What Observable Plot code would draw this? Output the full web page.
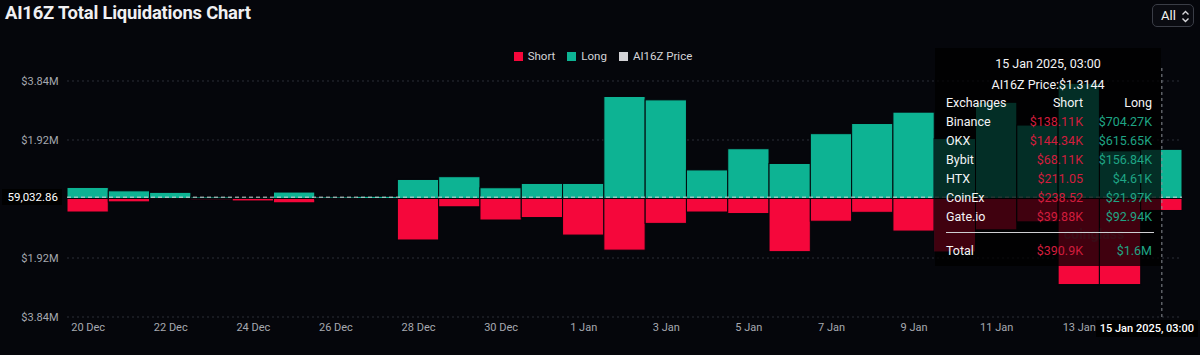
<!DOCTYPE html>
<html><head><meta charset="utf-8">
<script src="https://cdn.jsdelivr.net/npm/d3@7"></script>
<script src="https://cdn.jsdelivr.net/npm/@observablehq/plot@0.6"></script>
<style>
body{margin:0;background:#05060b;font-family:Roboto,"Noto Sans",sans-serif;}
#wrap{position:relative;width:1200px;height:355px;overflow:hidden;background:#05060b;}
#title{position:absolute;left:5px;top:2px;font-size:18.4px;font-weight:700;color:#f0f0f2;letter-spacing:-0.2px;white-space:nowrap}
#sel{position:absolute;left:1152px;top:4px;width:42px;height:23px;border:1px solid #3a3d46;border-radius:5px;background:#0a0b11;color:#f2f2f2;font-size:13px;box-sizing:border-box}
#sel span{position:absolute;left:8px;top:3px}
#sel svg{position:absolute;left:28px;top:5px}
#legend{position:absolute;left:0;top:49px;width:1206px;display:flex;justify-content:center;gap:12px;font-size:11.5px;color:#d4d4d8}
#legend .it{display:flex;align-items:center;gap:5px}
#legend .sw{width:9px;height:9px;display:inline-block}
#chart{position:absolute;left:0;top:68px}
.hl{position:absolute;background:#000;color:#fff;white-space:nowrap}
#tip{position:absolute;left:935px;top:48px;width:226px;height:218px;background:rgba(0,0,0,0.74);color:#f4f4f6;font-size:12.5px}
#tip div{position:absolute;white-space:nowrap;line-height:15px}
#wm{position:absolute;left:1064px;top:227px;font-size:14px;line-height:14px;font-weight:700;color:rgba(150,150,155,0.3)}
</style></head>
<body><div id="wrap">
<div id="title">AI16Z Total Liquidations Chart</div>
<div id="sel"><span>All</span><svg width="9" height="13" viewBox="0 0 9 13"><path d="M1.5 4.5 L4.5 1.5 L7.5 4.5 M1.5 8.5 L4.5 11.5 L7.5 8.5" stroke="#d8d8dc" stroke-width="1.4" fill="none"/></svg></div>
<div id="legend"></div>
<div id="chart"></div>
</div>
<script>
// ---- data (values in millions of USD) ----
const dates = ["2024-12-20","2024-12-21","2024-12-22","2024-12-23","2024-12-24","2024-12-25","2024-12-26","2024-12-27","2024-12-28","2024-12-29","2024-12-30","2024-12-31","2025-01-01","2025-01-02","2025-01-03","2025-01-04","2025-01-05","2025-01-06","2025-01-07","2025-01-08","2025-01-09","2025-01-10","2025-01-11","2025-01-12","2025-01-13","2025-01-14","2025-01-15"];
const longM  = [0.36,0.25,0.20,0.05,0.04,0.21,0.05,0.07,0.62,0.71,0.35,0.49,0.49,3.32,3.21,0.93,1.62,1.14,2.11,2.44,2.81,1.95,3.13,2.39,3.75,1.55,1.60];
const shortM = [0.44,0.11,0.03,0.04,0.08,0.14,0.03,0.03,1.35,0.27,0.70,0.62,1.19,1.68,0.81,0.44,0.49,1.73,0.74,0.45,1.06,1.74,1.02,0.76,2.80,2.80,0.39];
const yTicks = [-3.84,-1.92,1.92,3.84];
const xTickDates = ["2024-12-20","2024-12-22","2024-12-24","2024-12-26","2024-12-28","2024-12-30","2025-01-01","2025-01-03","2025-01-05","2025-01-07","2025-01-09","2025-01-11","2025-01-13"];
const legendNames = ["Short","Long","AI16Z Price"];
const legendColors = ["#f5073b","#0db393","#d2d2d6"];
const cursorValue = 59032.86;           // USD
const cursorLabel = "15 Jan 2025, 03:00";
const cursorDay = "2025-01-15";
const tipPrice = "AI16Z Price:$1.3144";
const exchanges = ["Binance","OKX","Bybit","HTX","CoinEx","Gate.io"];
const exShort = ["$138.11K","$144.34K","$68.11K","$211.05","$238.52","$39.88K"];
const exLong  = ["$704.27K","$615.65K","$156.84K","$4.61K","$21.97K","$92.94K"];
const totalShort = "$390.9K", totalLong = "$1.6M";

const GREEN="#0db393", RED="#f5073b", BG="#05060b";
const day = s => new Date(s+"T00:00Z");
const rows = dates.map((d,i)=>({start:day(d), end:d3.utcDay.offset(day(d),1), long:longM[i], short:-shortM[i]}));
const xTicks = xTickDates.map(d=>d3.utcHour.offset(day(d),12));
const cursorDate = d3.utcHour.offset(day(cursorDay),12);

// layout
const H=287, mB=35, zeroY=130.5, pxPerM=30.73;
const yTop = zeroY/pxPerM, yBot = -((H-mB)-zeroY)/pxPerM;

const chart = Plot.plot({
  width:1200, height:H, marginLeft:67, marginRight:18, marginTop:0, marginBottom:mB,
  style:{background:"transparent", color:"#a6a9b0", fontFamily:"Roboto, sans-serif", fontSize:"11px", overflow:"visible"},
  x:{type:"utc", domain:[day(dates[0]), d3.utcDay.offset(day(dates[dates.length-1]),1)]},
  y:{domain:[yBot,yTop]},
  marks:[
    Plot.ruleY(yTicks,{stroke:"#2c2f38", strokeDasharray:"2,3"}),
    Plot.rect(rows,{x1:"start",x2:"end",y1:0,y2:"long",fill:GREEN,stroke:BG,strokeWidth:1}),
    Plot.rect(rows,{x1:"start",x2:"end",y1:0,y2:"short",fill:RED,stroke:BG,strokeWidth:1}),
    Plot.ruleY([cursorValue/1e6],{stroke:"#d4d4d8",strokeDasharray:"4,3",strokeWidth:1}),
    Plot.ruleX([cursorDate],{stroke:"#8a8d95",strokeDasharray:"3,3",strokeWidth:1}),
    Plot.axisY(yTicks,{tickSize:0,tickPadding:9,label:null,fill:"#a6a9b0",tickFormat:d=>"$"+Math.abs(d).toFixed(2)+"M"}),
    Plot.axisX(xTicks,{tickSize:0,tickPadding:3,label:null,fill:"#a6a9b0",tickFormat:d3.utcFormat("%-d %b")})
  ]
});
document.getElementById("chart").appendChild(chart);

const wrap=document.getElementById("wrap");
// legend
const lg=document.getElementById("legend");
legendNames.forEach((n,i)=>{const it=document.createElement("div");it.className="it";
  it.innerHTML=`<span class="sw" style="background:${legendColors[i]}"></span><span>${n}</span>`;lg.appendChild(it);});

// crosshair labels
const sy=chart.scale("y");
const yl=document.createElement("div");yl.className="hl";
yl.textContent=d3.format(",.2f")(cursorValue);
yl.style.cssText+=`left:2px;width:60px;text-align:right;padding-right:4px;box-sizing:border-box;font-size:11.5px;height:16px;line-height:16px;top:${68+sy.apply(cursorValue/1e6)-8}px`;
wrap.appendChild(yl);
const xl=document.createElement("div");xl.className="hl";
xl.textContent=cursorLabel;
xl.style.cssText+=`right:2px;top:320px;height:17px;line-height:17px;padding:0 4px;font-size:11px;font-weight:500`;
wrap.appendChild(xl);

// watermark
const wm=document.createElement("div");wm.id="wm";wm.textContent="coinglass";wrap.appendChild(wm);

// tooltip
const tip=document.createElement("div");tip.id="tip";
const add=(txt,css)=>{const d=document.createElement("div");d.textContent=txt;d.style.cssText=css;tip.appendChild(d);};
add(cursorLabel,"left:0;width:226px;text-align:center;top:8px");
add(tipPrice,"left:0;width:226px;text-align:center;top:29px");
add("Exchanges","left:11px;top:47px");add("Short","right:78px;top:47px");add("Long","right:9px;top:47px");
exchanges.forEach((e,i)=>{const t=66+i*19;
  add(e,`left:11px;top:${t}px`);
  add(exShort[i],`right:78px;top:${t}px;color:#d21d3d`);
  add(exLong[i],`right:9px;top:${t}px;color:#1fa585`);});
const ln=document.createElement("div");ln.style.cssText="left:11px;width:208px;top:184px;height:1px;background:#cfcfd3";tip.appendChild(ln);
add("Total","left:11px;top:195px");
add(totalShort,"right:78px;top:195px;color:#d21d3d");
add(totalLong,"right:9px;top:195px;color:#1fa585");
wrap.appendChild(tip);
</script>
</body></html>
